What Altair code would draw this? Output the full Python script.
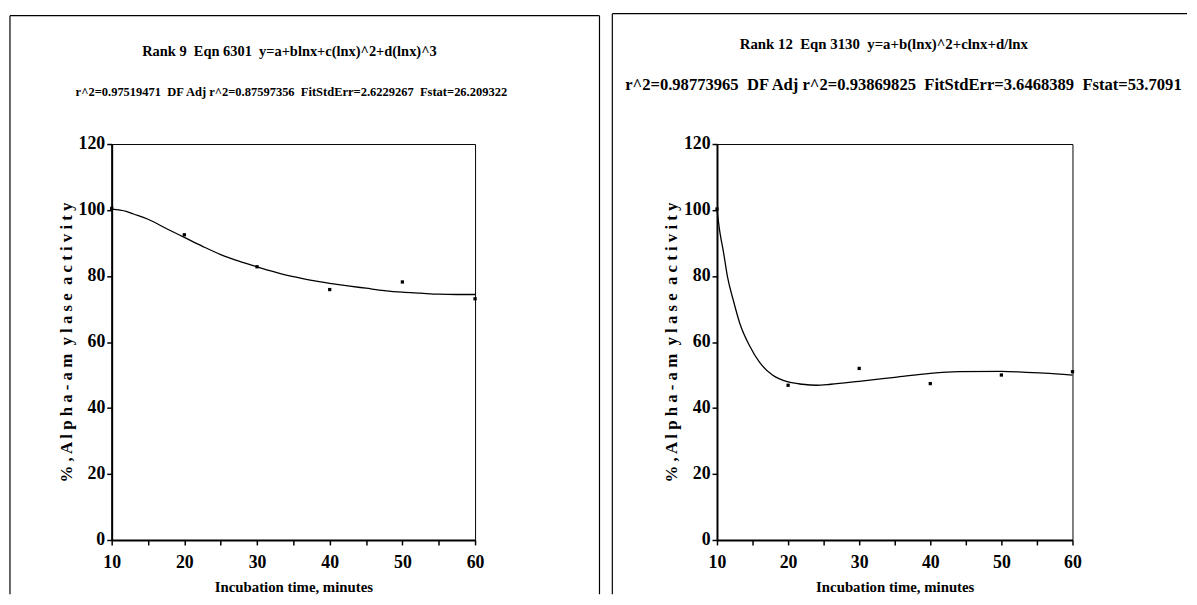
import altair as alt
import pandas as pd

# ---------------- data ----------------
time_min = [10, 20, 30, 40, 50, 60]
left_obs = [100.5, 92.5, 82.8, 75.9, 78.2, 73.1]
right_obs = [100.3, 46.9, 52.0, 47.4, 50.0, 51.0]

left_fit_x = [10, 12, 13, 15, 17.5, 20, 22.5, 25, 27.5, 30, 32.5, 35, 37.5, 40,
              42.5, 45, 47.5, 50, 52.5, 55, 57.5, 60]
left_fit_y = [100.3, 99.6, 98.8, 97.2, 94.4, 91.7, 89.0, 86.5, 84.5, 82.8, 81.2,
              79.8, 78.7, 77.8, 77.0, 76.3, 75.6, 75.1, 74.8, 74.5, 74.4, 74.4]

right_fit_x = [10, 10.4, 10.9, 11.5, 12.3, 13.2, 14.6, 16, 17.8, 20, 22, 24, 26,
               30, 35, 40, 44, 50, 53.5, 56, 60]
right_fit_y = [100.0, 93.4, 87.4, 79.5, 72.6, 65.7, 58.8, 53.8, 50.0, 47.9, 47.2,
               46.9, 47.2, 48.1, 49.3, 50.5, 51.0, 51.1, 50.8, 50.6, 50.0]

x_ticks = [10, 15, 20, 25, 30, 35, 40, 45, 50, 55, 60]
y_ticks = [0, 20, 40, 60, 80, 100, 120]

NB = "\u00a0"
left_title = f"Rank 9{NB} Eqn 6301{NB} y=a+blnx+c(lnx)^2+d(lnx)^3"
left_sub = f"r^2=0.97519471{NB} DF Adj r^2=0.87597356{NB} FitStdErr=2.6229267{NB} Fstat=26.209322"
right_title = f"Rank 12{NB} Eqn 3130{NB} y=a+b(lnx)^2+clnx+d/lnx"
right_sub = f"r^2=0.98773965{NB} DF Adj r^2=0.93869825{NB} FitStdErr=3.6468389{NB} Fstat=53.709163"
x_title = "Incubation time, minutes"
y_title = f"% , A l p h a - a m{NB} y l a s e{NB} a c t i v i t y"

FONT = "Liberation Serif"
W1, W2, H = 368, 360, 401


def panel(obs, fx, fy, title, sub, W, geo):
    pts = pd.DataFrame({"t": time_min, "v": obs})
    fit = pd.DataFrame({"t": fx, "v": fy})
    one = pd.DataFrame({"k": [0]})
    xs = alt.X("t:Q", scale=alt.Scale(domain=[10, 60], nice=False, zero=False),
               axis=alt.Axis(values=x_ticks, title=x_title, labelFlush=False,
                             labelExpr="datum.value % 10 == 0 ? datum.label : ''",
                             labelPadding=9, labelFontSize=18,
                             titleX=W / 2, titleY=52, titleBaseline="alphabetic",
                             titleFontSize=15))
    ys = alt.Y("v:Q", scale=alt.Scale(domain=[0, 120], nice=False),
               axis=alt.Axis(values=y_ticks, title=y_title, titleAngle=270,
                             labelPadding=2, labelFontSize=18,
                             titleX=-46, titleY=H / 2, titleBaseline="middle",
                             titleAlign="center", titleFontSize=17))
    line = alt.Chart(fit).mark_line(color="black", strokeWidth=1.3,
                                    interpolate="monotone").encode(x=xs, y=ys)
    dots = alt.Chart(pts).mark_square(size=11, color="black", opacity=1).encode(x=xs, y=ys)

    fl, fr, ft, fb = geo["fl"], geo["fr"], geo["ft"], geo["fb"]
    rule = dict(color="black", strokeWidth=1.2)
    top = alt.Chart(one).mark_rule(**rule).encode(
        x=alt.value(fl), x2=alt.value(fr), y=alt.value(ft))
    lft = alt.Chart(one).mark_rule(**rule).encode(
        x=alt.value(fl), y=alt.value(ft), y2=alt.value(fb))
    layers = [top, lft]
    if geo.get("right_side", True):
        rgt = alt.Chart(one).mark_rule(**rule).encode(
            x=alt.value(fr), y=alt.value(ft), y2=alt.value(fb))
        layers.append(rgt)

    t1 = alt.Chart(one).mark_text(text=title, font=FONT, fontSize=geo["tfs"], fontWeight="bold",
                                  align="center", baseline="alphabetic", color="black").encode(
        x=alt.value(geo["tx"]), y=alt.value(geo["ty"]))
    sub_kw = dict(text=sub, font=FONT, fontSize=geo["sfs"], fontWeight="bold",
                  align=geo["salign"], baseline="alphabetic", color="black")
    if "slimit" in geo:
        sub_kw.update(limit=geo["slimit"], ellipsis="\u200b")
    t2 = alt.Chart(one).mark_text(**sub_kw).encode(
        x=alt.value(geo["sx"]), y=alt.value(geo["sy"]))
    layers += [t1, t2, line, dots]
    return alt.layer(*layers).properties(width=W, height=H)


left = panel(left_obs, left_fit_x, left_fit_y, left_title, left_sub, W1,
             dict(fl=-103, fr=494, ft=-130, fb=456, tx=180, ty=-89, tfs=14.6,
                  sx=182, sy=-49, salign="center", sfs=12.65))
right = panel(right_obs, right_fit_x, right_fit_y, right_title, right_sub, W2,
              dict(fl=-106, fr=476, ft=-132, fb=456, right_side=False, tx=169, ty=-96,
                   tfs=15, sx=-93, sy=-55, salign="left", slimit=570, sfs=16.8))

chart = alt.hconcat(left, right, spacing=9).properties(padding=0).configure_view(
    stroke="black", strokeWidth=1
).configure_axis(
    grid=False, domainColor="black", domainWidth=2, tickColor="black", tickWidth=1.5,
    tickSize=5, labelFont=FONT, labelFontWeight="bold",
    labelColor="black", titleFont=FONT, titleFontWeight="bold",
    titleColor="black"
)

chart.save("out.html", embed_options={"renderer": "svg", "actions": False})
